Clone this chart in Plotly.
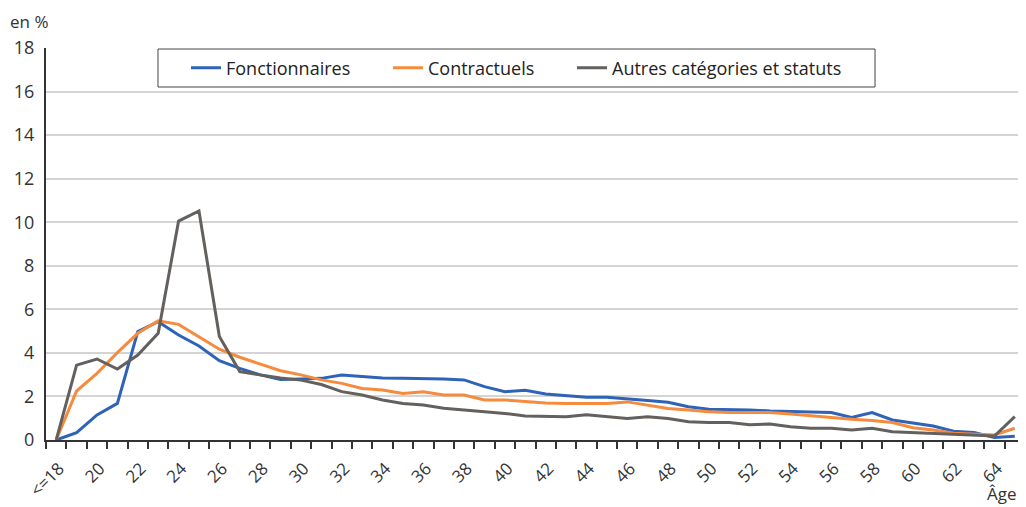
import plotly.graph_objects as go

# age categories (x axis)
ages = ["<=18"] + [str(a) for a in range(19, 65)] + [">=65"]

# share of each age, in %
fonctionnaires = [0, 0.34, 1.15, 1.68, 4.98, 5.43, 4.82, 4.32, 3.64, 3.29, 2.99, 2.78,
                  2.80, 2.83, 2.98, 2.92, 2.85, 2.83, 2.83, 2.80, 2.76, 2.45, 2.22, 2.28,
                  2.11, 2.05, 1.96, 1.96, 1.90, 1.81, 1.73, 1.53, 1.41, 1.41, 1.38,
                  1.33, 1.30, 1.26, 1.26, 1.04, 1.26, 0.92, 0.77, 0.64, 0.40, 0.34, 0.12, 0.17]
contractuels = [0, 2.25, 3.06, 4.01, 4.90, 5.47, 5.31, 4.72, 4.17, 3.80, 3.49, 3.18,
                2.99, 2.76, 2.60, 2.37, 2.30, 2.14, 2.22, 2.07, 2.07, 1.84, 1.84, 1.78,
                1.70, 1.68, 1.68, 1.68, 1.75, 1.59, 1.45, 1.38, 1.30, 1.26, 1.26,
                1.26, 1.19, 1.10, 1.04, 0.95, 0.89, 0.80, 0.56, 0.46, 0.31, 0.28, 0.23, 0.54]
autres = [0, 3.44, 3.72, 3.26, 3.90, 4.90, 10.05, 10.52, 4.75, 3.14, 2.99, 2.85,
          2.75, 2.55, 2.22, 2.07, 1.84, 1.68, 1.61, 1.46, 1.38, 1.30, 1.22, 1.10,
          1.07, 1.07, 1.16, 1.07, 0.99, 1.07, 0.99, 0.84, 0.80, 0.80, 0.70,
          0.73, 0.61, 0.54, 0.54, 0.46, 0.54, 0.38, 0.34, 0.31, 0.28, 0.23, 0.18, 1.07]

NB = "\u00a0"
series = [
    ("Fonctionnaires", fonctionnaires, "#2E63B8", 7),
    ("Contractuels", contractuels, "#F68B3D", 7),
    ("Autres catégories et statuts", autres, "#63605E", 0),
]

FONT = "Open Sans"

fig = go.Figure()
for name, vals, color, pad in series:
    fig.add_trace(go.Scatter(x=ages, y=vals, mode="lines", name=name + NB * pad,
                             line=dict(color=color, width=3)))

# page body has an 8px margin, so the figure is 8px smaller than the window
fig.update_layout(
    width=1018, height=499,
    margin=dict(l=38, r=1, t=40, b=67),
    paper_bgcolor="white", plot_bgcolor="white",
    font=dict(family=FONT, size=17, color="#333333"),
    legend=dict(
        orientation="h", x=0.143, y=0.949, xanchor="left", yanchor="middle",
        borderwidth=0, bgcolor="rgba(0,0,0,0)",
        font=dict(family=FONT, size=18, color="#222222"),
    ),
    showlegend=True,
)

# legend frame
fig.add_shape(type="rect", xref="paper", yref="paper",
              x0=0.1144, x1=0.8468, y0=0.9005, y1=0.9974,
              line=dict(color="#444444", width=1), fillcolor="rgba(0,0,0,0)")

fig.update_xaxes(
    type="category", range=[-0.5, len(ages) - 0.5],
    tickmode="array", tickvals=ages,
    ticktext=[a if i % 2 == 0 else "" for i, a in enumerate(ages)],
    tickson="boundaries", ticks="outside", ticklen=7,
    tickcolor="#333333", tickwidth=1.5,
    tickangle=-45, ticklabelstandoff=10, ticklabelshift=3,
    automargin=False,
    showgrid=False, zeroline=False,
    showline=True, linecolor="#333333", linewidth=2,
)
fig.update_yaxes(
    range=[0, 18], dtick=2,
    showgrid=True, gridcolor="#d4d4d4", gridwidth=1.5,
    zeroline=False, showline=True, linecolor="#333333", linewidth=2,
    ticks="", ticklabelstandoff=6, automargin=False,
    tickfont=dict(size=18),
)

fig.add_annotation(text="en %", xref="paper", yref="paper", x=-0.039, y=1.102,
                   xanchor="left", yanchor="top", showarrow=False,
                   font=dict(family=FONT, size=17, color="#333333"))
fig.add_annotation(text="Âge", xref="paper", yref="paper", x=0.994, y=-0.171,
                   xanchor="right", yanchor="bottom", showarrow=False,
                   font=dict(family=FONT, size=17, color="#333333"))

fig.write_html("out.html")
